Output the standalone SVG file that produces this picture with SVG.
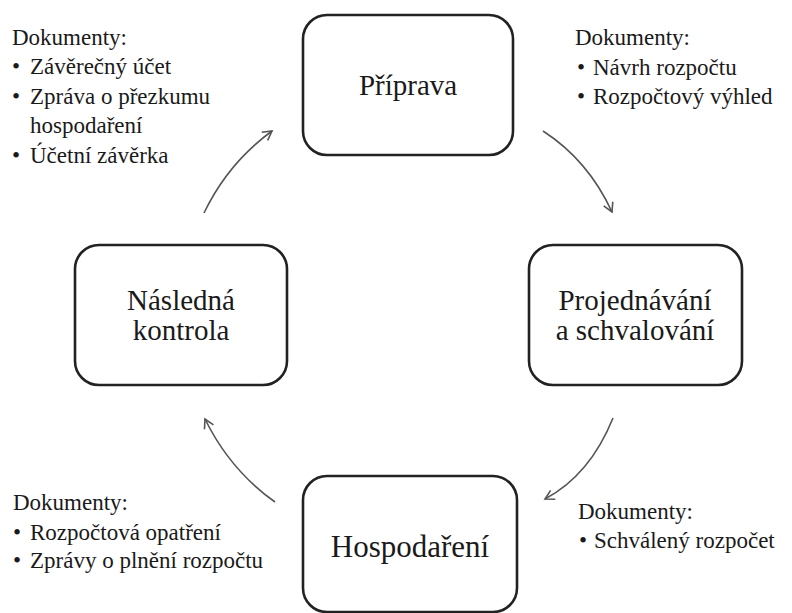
<svg xmlns="http://www.w3.org/2000/svg" width="792" height="613" viewBox="0 0 792 613">
<defs>
<marker id="ah" markerWidth="12" markerHeight="12" refX="10" refY="6" orient="auto" markerUnits="userSpaceOnUse">
<path d="M1,1 L10,6 L1,11" fill="none" stroke="#555" stroke-width="1.6"/>
</marker>
</defs>
<style>
.box{fill:#fff;stroke:#222;stroke-width:2.6}
text{font-family:"Liberation Serif","Times New Roman",Tinos,"Noto Serif","Nimbus Roman","FreeSerif","DejaVu Serif",serif;fill:#1a1a1a}
.lbl{font-size:29px;text-anchor:middle}
.doc{font-size:23px}
.conn{fill:none;stroke:#555;stroke-width:1.6}
</style>
<rect width="792" height="613" fill="#fff"/>
<g id="connectors">
<path class="conn" d="M204,213 Q228,163 272,131" marker-end="url(#ah)"/>
<path class="conn" d="M543,131 Q588,160 612,212" marker-end="url(#ah)"/>
<path class="conn" d="M613,418 Q590,475 545,499" marker-end="url(#ah)"/>
<path class="conn" d="M275,502 Q230,470 205,419" marker-end="url(#ah)"/>
</g>
<g id="priprava">
<rect class="box" x="303" y="15" width="210" height="140" rx="24"/>
<text class="lbl" x="408" y="95">Příprava</text>
</g>
<g id="projednavani">
<rect class="box" x="529" y="245" width="213" height="140" rx="24"/>
<text class="lbl" x="635" y="310">Projednávání</text>
<text class="lbl" x="635" y="340">a schvalování</text>
</g>
<g id="hospodareni">
<rect class="box" x="303" y="476" width="214" height="136" rx="24"/>
<text class="lbl" x="410" y="557" style="font-size:31px">Hospodaření</text>
</g>
<g id="kontrola">
<rect class="box" x="75" y="245" width="212" height="140" rx="24"/>
<text class="lbl" x="181" y="310">Následná</text>
<text class="lbl" x="181" y="340">kontrola</text>
</g>
<g id="doc-kontrola">
<text class="doc" x="12" y="45">Dokumenty:</text>
<text class="doc" x="12" y="74">•</text><text class="doc" x="30" y="74">Závěrečný účet</text>
<text class="doc" x="12" y="104">•</text><text class="doc" x="30" y="104">Zpráva o přezkumu</text>
<text class="doc" x="30" y="133">hospodaření</text>
<text class="doc" x="12" y="163">•</text><text class="doc" x="30" y="163">Účetní závěrka</text>
</g>
<g id="doc-priprava">
<text class="doc" x="575" y="45">Dokumenty:</text>
<text class="doc" x="577" y="75">•</text><text class="doc" x="593" y="75">Návrh rozpočtu</text>
<text class="doc" x="577" y="104">•</text><text class="doc" x="593" y="104">Rozpočtový výhled</text>
</g>
<g id="doc-hospodareni">
<text class="doc" x="13" y="510">Dokumenty:</text>
<text class="doc" x="13" y="540">•</text><text class="doc" x="30" y="540">Rozpočtová opatření</text>
<text class="doc" x="13" y="568">•</text><text class="doc" x="30" y="568">Zprávy o plnění rozpočtu</text>
</g>
<g id="doc-schvalovani">
<text class="doc" x="578" y="519">Dokumenty:</text>
<text class="doc" x="579" y="548">•</text><text class="doc" x="594" y="548">Schválený rozpočet</text>
</g>
</svg>
